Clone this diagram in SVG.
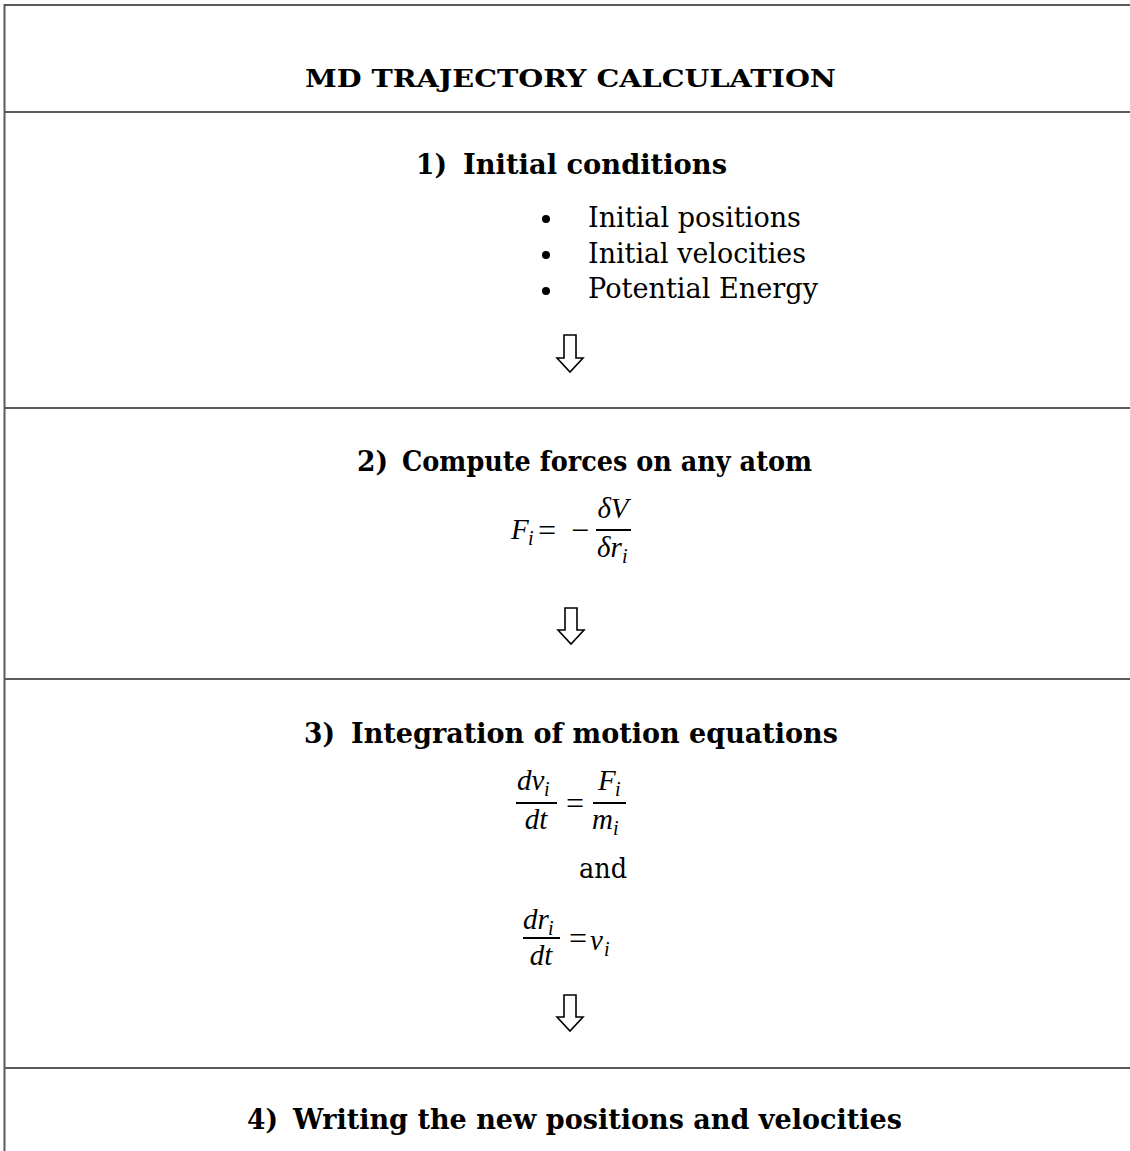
<svg xmlns="http://www.w3.org/2000/svg" width="1130" height="1151" viewBox="0 0 1130 1151">
<style>
.frame{fill:none;stroke:#5a5a5a;stroke-width:2}
.sep{stroke:#5a5a5a;stroke-width:2}
.h{font-family:"DejaVu Serif","Liberation Serif",serif;font-weight:bold;fill:#000}
.t{font-family:"DejaVu Serif","Liberation Serif",serif;fill:#000;font-size:27px}
.m{font-family:"Liberation Serif","DejaVu Serif",serif;font-style:italic;fill:#000;font-size:29px}
.ms{font-family:"Liberation Serif","DejaVu Serif",serif;font-style:italic;fill:#000;font-size:20px}
.op{font-family:"Liberation Serif","DejaVu Serif",serif;fill:#000;font-size:32px}
.bar{stroke:#000;stroke-width:1.8}
.arrow{fill:#fff;stroke:#000;stroke-width:1.6;stroke-linejoin:miter}
</style>
<rect class="frame" x="4.5" y="5" width="1130" height="1160"/>
<g id="separators">
<line class="sep" x1="4" y1="112" x2="1130" y2="112"/>
<line class="sep" x1="4" y1="408" x2="1130" y2="408"/>
<line class="sep" x1="4" y1="679" x2="1130" y2="679"/>
<line class="sep" x1="4" y1="1068" x2="1130" y2="1068"/>
</g>
<g id="title">
<text class="h" x="305" y="87" font-size="25" textLength="531" lengthAdjust="spacingAndGlyphs">MD TRAJECTORY CALCULATION</text>
</g>
<g id="step1">
<text class="h" x="416" y="174" font-size="28" textLength="31" lengthAdjust="spacingAndGlyphs">1)</text>
<text class="h" x="463" y="174" font-size="28" textLength="264" lengthAdjust="spacingAndGlyphs">Initial conditions</text>
<circle cx="546" cy="219" r="4"/>
<circle cx="546" cy="255" r="4"/>
<circle cx="546" cy="291" r="4"/>
<text class="t" x="588" y="227" textLength="213" lengthAdjust="spacingAndGlyphs">Initial positions</text>
<text class="t" x="588" y="263" textLength="218" lengthAdjust="spacingAndGlyphs">Initial velocities</text>
<text class="t" x="588" y="298" textLength="230" lengthAdjust="spacingAndGlyphs">Potential Energy</text>
</g>
<g id="step2">
<text class="h" x="357" y="471" font-size="28" textLength="31" lengthAdjust="spacingAndGlyphs">2)</text>
<text class="h" x="402" y="471" font-size="28" textLength="410" lengthAdjust="spacingAndGlyphs">Compute forces on any atom</text>
<text class="m" x="511" y="539">F</text>
<text class="ms" x="528" y="545">i</text>
<text class="op" x="547" y="541" text-anchor="middle">=</text>
<text class="op" x="580" y="541" text-anchor="middle">−</text>
<text class="m" x="613" y="518" text-anchor="middle">δV</text>
<line class="bar" x1="596" y1="530" x2="631" y2="530"/>
<text class="m" x="597" y="557">δr</text>
<text class="ms" x="622" y="563">i</text>
</g>
<g id="step3">
<text class="h" x="304" y="743" font-size="28" textLength="31" lengthAdjust="spacingAndGlyphs">3)</text>
<text class="h" x="351" y="743" font-size="28" textLength="487" lengthAdjust="spacingAndGlyphs">Integration of motion equations</text>
<text class="m" x="517" y="790">dv</text>
<text class="ms" x="544" y="796">i</text>
<line class="bar" x1="516" y1="803" x2="557" y2="803"/>
<text class="m" x="536" y="829" text-anchor="middle">dt</text>
<text class="op" x="575" y="814" text-anchor="middle">=</text>
<text class="m" x="598" y="790">F</text>
<text class="ms" x="615" y="796">i</text>
<line class="bar" x1="593" y1="803" x2="626" y2="803"/>
<text class="m" x="592" y="829">m</text>
<text class="ms" x="613" y="835">i</text>
<text class="t" x="579" y="878" textLength="48" lengthAdjust="spacingAndGlyphs">and</text>
<text class="m" x="523" y="929">dr</text>
<text class="ms" x="548" y="935">i</text>
<line class="bar" x1="523" y1="938" x2="560" y2="938"/>
<text class="m" x="541" y="965" text-anchor="middle">dt</text>
<text class="op" x="578" y="949" text-anchor="middle">=</text>
<text class="m" x="590" y="950">v</text>
<text class="ms" x="604" y="956">i</text>
</g>
<g id="step4">
<text class="h" x="247" y="1129" font-size="28" textLength="31" lengthAdjust="spacingAndGlyphs">4)</text>
<text class="h" x="293" y="1129" font-size="28" textLength="609" lengthAdjust="spacingAndGlyphs">Writing the new positions and velocities</text>
</g>
<g id="connectors">
<polygon class="arrow" points="564,335 576,335 576,358 583,358 570,372 557,358 564,358"/>
<polygon class="arrow" points="565,608 577,608 577,630 584,630 571,644 558,630 565,630"/>
<polygon class="arrow" points="564,995 576,995 576,1017 583,1017 570,1031 557,1017 564,1017"/>
</g>
</svg>
